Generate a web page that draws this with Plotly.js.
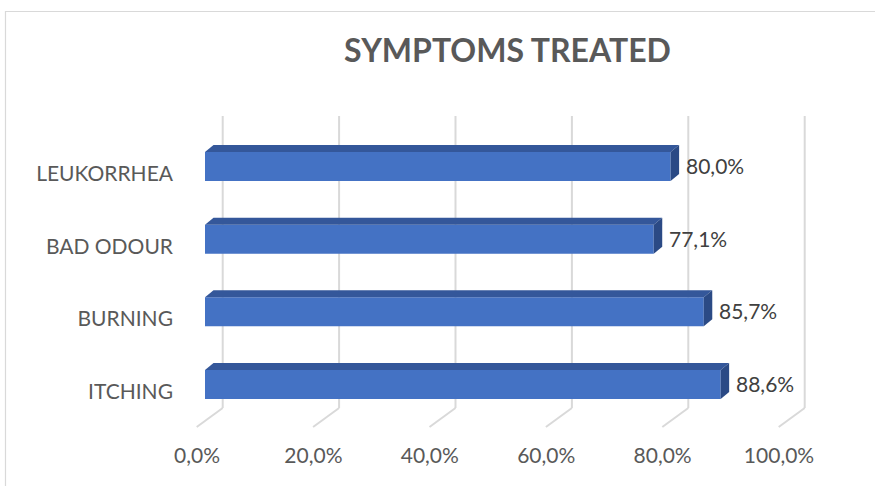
<!DOCTYPE html>
<html>
<head>
<meta charset="utf-8">
<script src="https://cdn.plot.ly/plotly-3.0.1.min.js"></script>
<style>html,body{margin:0;padding:0;background:#fff;}#chart{width:875px;height:486px;}</style>
</head>
<body>
<div id="chart"></div>
<script>
// ---- data ----
const categories = ['ITCHING', 'BURNING', 'BAD ODOUR', 'LEUKORRHEA'];
const values = [88.6, 85.7, 77.1, 80.0];
const tickValues = [0, 20, 40, 60, 80, 100];
const tickLabels = ['0,0%', '20,0%', '40,0%', '60,0%', '80,0%', '100,0%'];
const chartTitle = 'SYMPTOMS TREATED';

// ---- layout calibration (pixels) ----
const W = 875, H = 486;
const PX0 = 205, PXU = 5.82;    // x pixel of 0 %, pixels per 1 %
const PY0 = 384.5, PYU = 72.67; // y pixel of first category, pixels per category
const dx = p => p / PXU;
const dy = p => p / PYU;
const idx = categories.map((c, i) => i);
const barW = 0.4;
const depthX = 8.5, depthY = 7;       // bar depth
const backX = 17.7;                   // back wall offset
const gridTop = dy(PY0 - 116), gridBot = dy(PY0 - 408);
const floorDX = -26, floorDY = -19;

const shapes = [];
// chart border
shapes.push({type:'rect', xref:'paper', yref:'paper', x0:5.5/W, x1:1.05, y0:-0.05, y1:1-11.5/H,
  line:{color:'#d9d9d9', width:1.2}, fillcolor:'rgba(0,0,0,0)', layer:'below'});
// back wall gridlines + floor lines
tickValues.forEach(v => {
  const bx = v + dx(backX);
  shapes.push({type:'line', xref:'x', yref:'y', x0:bx, x1:bx, y0:gridBot, y1:gridTop,
    line:{color:'#d9d9d9', width:2}, layer:'below'});
  shapes.push({type:'line', xref:'x', yref:'y', x0:bx, x1:bx + dx(floorDX), y0:gridBot, y1:gridBot + dy(floorDY),
    line:{color:'#d9d9d9', width:2}, layer:'below'});
});
// 3D faces of bars
values.forEach((v, i) => {
  const top = i + barW / 2, bot = i - barW / 2;
  const ox = dx(depthX), oy = dy(depthY);
  shapes.push({type:'path', xref:'x', yref:'y', layer:'above',
    path:`M 0,${top} L ${v},${top} L ${v+ox},${top+oy} L ${ox},${top+oy} Z`,
    fillcolor:'#34579a', line:{width:0}});
  shapes.push({type:'path', xref:'x', yref:'y', layer:'above',
    path:`M ${v},${bot} L ${v},${top} L ${v+ox},${top+oy} L ${v+ox},${bot+oy} Z`,
    fillcolor:'#2b4a85', line:{width:0}});
});

const annotations = values.map((v, i) => ({
  x: v, y: i, xref:'x', yref:'y', xanchor:'left', yanchor:'middle', xshift: 14, yshift: 1,
  text: v.toFixed(1).replace('.', ',') + '%', showarrow:false, borderpad:0,
  font:{family:'Lato, Carlito, sans-serif', size:21, color:'#404040'}
}));

const data = [{
  type:'bar', orientation:'h', x: values, y: idx, width: barW,
  marker:{color:'#4472c4', line:{width:0}}, hoverinfo:'skip', showlegend:false
}];

const layout = {
  width: W, height: H, autosize:false,
  margin:{l:0, r:0, t:0, b:0},
  paper_bgcolor:'#ffffff', plot_bgcolor:'rgba(0,0,0,0)',
  font:{family:'Lato, Carlito, sans-serif', color:'#595959'},
  title:{text:chartTitle, x:507.5/W, xanchor:'center', xref:'paper', yref:'container', y:1-51/H, yanchor:'middle',
    font:{family:'Lato, Carlito, sans-serif', size:32, color:'#595959', weight:'bold'}},
  xaxis:{domain:[0,1], range:[-PX0/PXU, (W-PX0)/PXU], showgrid:false, zeroline:false, showline:false,
    tickmode:'array', tickvals:tickValues, ticktext:tickLabels, ticks:'', anchor:'free', position:1-441/H,
    ticklabelshift:-8, tickfont:{size:21, color:'#595959'}, fixedrange:true},
  yaxis:{domain:[0,1], range:[(PY0-H)/PYU, PY0/PYU], showgrid:false, zeroline:false, showline:false,
    tickmode:'array', tickvals:idx, ticktext:categories, ticks:'', anchor:'free', position:173/W,
    ticklabelshift:7, tickfont:{size:21, color:'#595959'}, fixedrange:true},
  shapes: shapes,
  annotations: annotations
};

Plotly.newPlot('chart', data, layout, {displayModeBar:false, staticPlot:true});
</script>
</body>
</html>
